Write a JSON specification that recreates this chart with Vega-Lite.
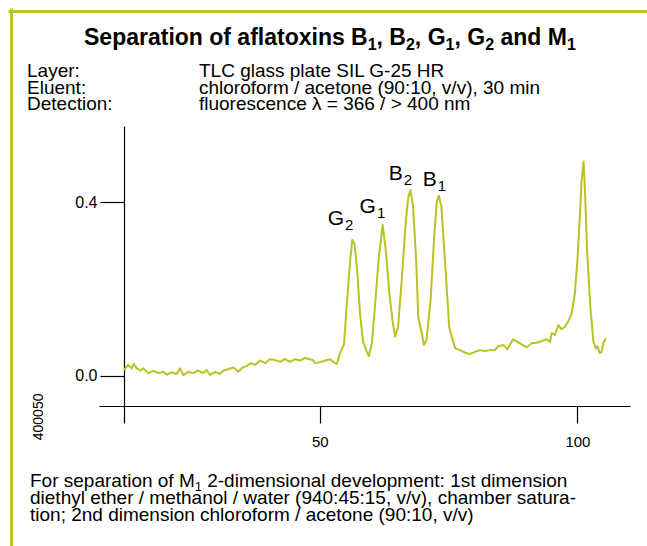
{
  "$schema": "https://vega.github.io/schema/vega-lite/v6.json",
  "width": 531,
  "height": 280,
  "autosize": "none",
  "padding": {"left": 99, "top": 126, "right": 17, "bottom": 140},
  "background": "white",
  "config": {
    "view": {"stroke": null},
    "font": "Liberation Sans",
    "text": {"font": "Liberation Sans", "color": "black"}
  },
  "datasets": {
    "trace": [
      {"x": 12.0, "y": 0.013}, {"x": 12.8, "y": 0.025}, {"x": 13.5, "y": 0.017}, {"x": 13.9, "y": 0.027},
      {"x": 14.5, "y": 0.017}, {"x": 15.2, "y": 0.012}, {"x": 15.7, "y": 0.017}, {"x": 16.7, "y": 0.006},
      {"x": 17.7, "y": 0.011}, {"x": 18.7, "y": 0.006}, {"x": 19.6, "y": 0.009}, {"x": 20.3, "y": 0.002},
      {"x": 21.2, "y": 0.008}, {"x": 22.2, "y": 0.004}, {"x": 22.9, "y": 0.017}, {"x": 23.5, "y": 0.001},
      {"x": 24.5, "y": 0.009}, {"x": 25.4, "y": 0.006}, {"x": 26.4, "y": 0.012}, {"x": 27.4, "y": 0.006},
      {"x": 28.0, "y": 0.013}, {"x": 28.7, "y": 0.002}, {"x": 29.7, "y": 0.009}, {"x": 30.6, "y": 0.004},
      {"x": 31.3, "y": 0.012}, {"x": 32.2, "y": 0.015}, {"x": 33.2, "y": 0.019}, {"x": 34.2, "y": 0.009},
      {"x": 35.0, "y": 0.019}, {"x": 35.8, "y": 0.022}, {"x": 36.6, "y": 0.029}, {"x": 37.4, "y": 0.025},
      {"x": 38.4, "y": 0.035}, {"x": 39.4, "y": 0.029}, {"x": 40.3, "y": 0.038}, {"x": 41.3, "y": 0.036},
      {"x": 42.3, "y": 0.032}, {"x": 43.2, "y": 0.039}, {"x": 44.2, "y": 0.032}, {"x": 45.2, "y": 0.038},
      {"x": 46.2, "y": 0.035}, {"x": 47.1, "y": 0.041}, {"x": 48.1, "y": 0.038}, {"x": 48.7, "y": 0.036},
      {"x": 49.1, "y": 0.029}, {"x": 50.0, "y": 0.031}, {"x": 51.0, "y": 0.035}, {"x": 52.0, "y": 0.038},
      {"x": 52.6, "y": 0.032}, {"x": 53.3, "y": 0.027}, {"x": 53.9, "y": 0.052}, {"x": 54.7, "y": 0.073},
      {"x": 55.2, "y": 0.159}, {"x": 55.9, "y": 0.267}, {"x": 56.3, "y": 0.313}, {"x": 56.7, "y": 0.305},
      {"x": 57.2, "y": 0.251}, {"x": 57.8, "y": 0.144}, {"x": 58.4, "y": 0.078}, {"x": 59.0, "y": 0.059},
      {"x": 59.5, "y": 0.045}, {"x": 60.1, "y": 0.075}, {"x": 60.7, "y": 0.159}, {"x": 61.4, "y": 0.267},
      {"x": 62.2, "y": 0.348}, {"x": 62.8, "y": 0.290}, {"x": 63.5, "y": 0.190}, {"x": 64.1, "y": 0.128},
      {"x": 64.6, "y": 0.090}, {"x": 65.2, "y": 0.113}, {"x": 65.9, "y": 0.221}, {"x": 66.7, "y": 0.359},
      {"x": 67.2, "y": 0.413}, {"x": 67.6, "y": 0.428}, {"x": 68.1, "y": 0.390}, {"x": 68.7, "y": 0.267},
      {"x": 69.1, "y": 0.136}, {"x": 69.8, "y": 0.098}, {"x": 70.2, "y": 0.071}, {"x": 70.7, "y": 0.082},
      {"x": 71.5, "y": 0.175}, {"x": 72.2, "y": 0.321}, {"x": 72.7, "y": 0.401}, {"x": 73.1, "y": 0.415},
      {"x": 73.6, "y": 0.390}, {"x": 74.1, "y": 0.298}, {"x": 74.7, "y": 0.190}, {"x": 75.1, "y": 0.113},
      {"x": 75.6, "y": 0.090}, {"x": 76.3, "y": 0.063}, {"x": 77.2, "y": 0.059}, {"x": 78.2, "y": 0.053},
      {"x": 79.1, "y": 0.050}, {"x": 80.1, "y": 0.055}, {"x": 81.1, "y": 0.059}, {"x": 82.1, "y": 0.057},
      {"x": 83.0, "y": 0.059}, {"x": 84.0, "y": 0.059}, {"x": 84.6, "y": 0.068}, {"x": 85.6, "y": 0.071},
      {"x": 86.4, "y": 0.061}, {"x": 87.5, "y": 0.084}, {"x": 88.8, "y": 0.075}, {"x": 90.1, "y": 0.065},
      {"x": 91.1, "y": 0.075}, {"x": 92.1, "y": 0.076}, {"x": 93.1, "y": 0.080}, {"x": 94.0, "y": 0.084},
      {"x": 94.7, "y": 0.078}, {"x": 95.0, "y": 0.098}, {"x": 95.6, "y": 0.094}, {"x": 96.3, "y": 0.117},
      {"x": 96.9, "y": 0.107}, {"x": 97.6, "y": 0.113}, {"x": 98.2, "y": 0.125}, {"x": 98.9, "y": 0.144},
      {"x": 99.5, "y": 0.190}, {"x": 100.0, "y": 0.267}, {"x": 100.5, "y": 0.375}, {"x": 100.8, "y": 0.451},
      {"x": 101.2, "y": 0.494}, {"x": 101.5, "y": 0.413}, {"x": 101.9, "y": 0.282}, {"x": 102.5, "y": 0.159},
      {"x": 103.1, "y": 0.078}, {"x": 103.6, "y": 0.063}, {"x": 103.9, "y": 0.068}, {"x": 104.3, "y": 0.052},
      {"x": 104.7, "y": 0.055}, {"x": 105.0, "y": 0.075}, {"x": 105.5, "y": 0.086}
    ],
    "peaks": [
      {"x": 54.7, "y": 0.348, "name": "G", "index": "2"},
      {"x": 60.9, "y": 0.376, "name": "G", "index": "1"},
      {"x": 66.1, "y": 0.451, "name": "B", "index": "2"},
      {"x": 72.7, "y": 0.438, "name": "B", "index": "1"}
    ],
    "frame": [
      {"x": -9.83, "x2": -9.83, "y": 0.8436, "y2": -0.45},
      {"x": -10.1, "x2": 118, "y": 0.8402, "y2": 0.8402}
    ],
    "heading": [
      {"x": 4.24, "y": 0.763, "text": "Separation of aflatoxins B"},
      {"x": 61.02, "y": 0.763, "text": ", B"},
      {"x": 68.45, "y": 0.763, "text": ", G"},
      {"x": 76.14, "y": 0.763, "text": ", G"},
      {"x": 85.06, "y": 0.763, "text": "and M"}
    ],
    "headingIndex": [
      {"x": 59.29, "y": 0.763, "text": "1"},
      {"x": 66.72, "y": 0.763, "text": "2"},
      {"x": 74.41, "y": 0.763, "text": "1"},
      {"x": 82.09, "y": 0.763, "text": "2"},
      {"x": 97.95, "y": 0.763, "text": "1"}
    ],
    "conditions": [
      {"x": -6.82, "y": 0.689, "text": "Layer:"},
      {"x": -6.82, "y": 0.650, "text": "Eluent:"},
      {"x": -6.82, "y": 0.612, "text": "Detection:"},
      {"x": 26.55, "y": 0.689, "text": "TLC glass plate SIL G-25 HR"},
      {"x": 26.55, "y": 0.650, "text": "chloroform / acetone (90:10, v/v), 30 min"},
      {"x": 26.55, "y": 0.612, "text": "fluorescence λ = 366 / > 400 nm"}
    ],
    "note": [
      {"x": -6.24, "y": -0.2567, "text": "For separation of M"},
      {"x": 28.15, "y": -0.2567, "text": "2-dimensional development: 1st dimension"},
      {"x": -6.24, "y": -0.2971, "text": "diethyl ether / methanol / water (940:45:15, v/v), chamber satura-"},
      {"x": -6.24, "y": -0.3346, "text": "tion; 2nd dimension chloroform / acetone (90:10, v/v)"}
    ],
    "noteIndex": [
      {"x": 25.72, "y": -0.2567, "text": "1"}
    ],
    "plate": [
      {"x": -4.5, "y": -0.095, "text": "400050"}
    ]
  },
  "layer": [
    {
      "data": {"name": "trace"},
      "mark": {"type": "line", "color": "#bac324", "strokeWidth": 2, "strokeJoin": "round"},
      "encoding": {
        "x": {
          "field": "x", "type": "quantitative", "title": null,
          "scale": {"domain": [7.15, 110.2], "nice": false, "zero": false},
          "axis": {
            "title": null, "values": [12, 50, 100], "grid": false,
            "labelExpr": "datum.value == 12 ? '' : datum.label",
            "domainColor": "black", "domainWidth": 1.2,
            "tickColor": "black", "tickWidth": 1.2, "tickSize": 17,
            "labelFont": "Liberation Sans", "labelFontSize": 15, "labelColor": "black",
            "labelPadding": 11
          }
        },
        "y": {
          "field": "y", "type": "quantitative", "title": null,
          "scale": {"domain": [-0.0699, 0.576], "nice": false, "zero": false},
          "axis": {
            "title": null, "values": [0, 0.4], "format": ".1f", "grid": false,
            "offset": -25,
            "domainColor": "black", "domainWidth": 1.2,
            "tickColor": "black", "tickWidth": 1.2, "tickSize": 24,
            "labelFont": "Liberation Sans", "labelFontSize": 16, "labelColor": "black",
            "labelPadding": 3
          }
        }
      }
    },
    {
      "data": {"name": "frame"},
      "mark": {"type": "rule", "color": "#bec61c", "strokeWidth": 3, "strokeCap": "square"},
      "encoding": {
        "x": {"field": "x", "type": "quantitative", "title": null},
        "x2": {"field": "x2"},
        "y": {"field": "y", "type": "quantitative", "title": null},
        "y2": {"field": "y2"}
      }
    },
    {
      "data": {"name": "peaks"},
      "mark": {"type": "text", "fontSize": 21, "align": "right", "baseline": "alphabetic"},
      "encoding": {
        "x": {"field": "x", "type": "quantitative", "title": null},
        "y": {"field": "y", "type": "quantitative", "title": null},
        "text": {"field": "name"}
      }
    },
    {
      "data": {"name": "peaks"},
      "mark": {"type": "text", "fontSize": 15, "align": "left", "baseline": "alphabetic", "dx": 1, "dy": 5},
      "encoding": {
        "x": {"field": "x", "type": "quantitative", "title": null},
        "y": {"field": "y", "type": "quantitative", "title": null},
        "text": {"field": "index"}
      }
    },
    {
      "data": {"name": "heading"},
      "mark": {"type": "text", "fontSize": 23, "fontWeight": "bold", "align": "left", "baseline": "alphabetic"},
      "encoding": {
        "x": {"field": "x", "type": "quantitative", "title": null},
        "y": {"field": "y", "type": "quantitative", "title": null},
        "text": {"field": "text"}
      }
    },
    {
      "data": {"name": "headingIndex"},
      "mark": {"type": "text", "fontSize": 16, "fontWeight": "bold", "align": "left", "baseline": "alphabetic", "dy": 5},
      "encoding": {
        "x": {"field": "x", "type": "quantitative", "title": null},
        "y": {"field": "y", "type": "quantitative", "title": null},
        "text": {"field": "text"}
      }
    },
    {
      "data": {"name": "conditions"},
      "mark": {"type": "text", "fontSize": 19, "align": "left", "baseline": "alphabetic"},
      "encoding": {
        "x": {"field": "x", "type": "quantitative", "title": null},
        "y": {"field": "y", "type": "quantitative", "title": null},
        "text": {"field": "text"}
      }
    },
    {
      "data": {"name": "note"},
      "mark": {"type": "text", "fontSize": 19, "align": "left", "baseline": "alphabetic"},
      "encoding": {
        "x": {"field": "x", "type": "quantitative", "title": null},
        "y": {"field": "y", "type": "quantitative", "title": null},
        "text": {"field": "text"}
      }
    },
    {
      "data": {"name": "noteIndex"},
      "mark": {"type": "text", "fontSize": 13, "align": "left", "baseline": "alphabetic", "dy": 4},
      "encoding": {
        "x": {"field": "x", "type": "quantitative", "title": null},
        "y": {"field": "y", "type": "quantitative", "title": null},
        "text": {"field": "text"}
      }
    },
    {
      "data": {"name": "plate"},
      "mark": {"type": "text", "fontSize": 14, "angle": 270, "align": "center", "baseline": "middle"},
      "encoding": {
        "x": {"field": "x", "type": "quantitative", "title": null},
        "y": {"field": "y", "type": "quantitative", "title": null},
        "text": {"field": "text"}
      }
    }
  ]
}
